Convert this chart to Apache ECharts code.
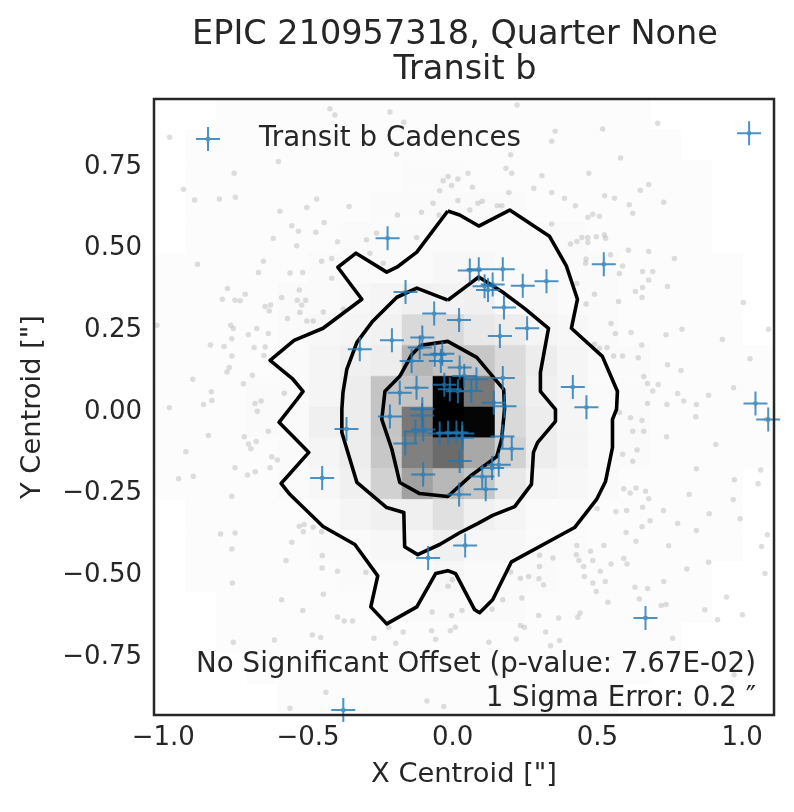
<!DOCTYPE html>
<html>
<head>
<meta charset="utf-8">
<title>EPIC 210957318 - Transit b centroids</title>
<script src="https://cdn.jsdelivr.net/npm/echarts@6/dist/echarts.min.js"></script>
<style>
html,body{margin:0;padding:0;background:#fff;}
#main{width:794px;height:812px;}
</style>
</head>
<body>
<div id="main"></div>
<script>
var FONT = '"DejaVu Sans", "Liberation Sans", sans-serif';
var TXT = '#262626';

// axis limits (arcsec) - the density grid covers exactly this box
var xLimits = [-1.032, 1.110];
var yLimits = [-0.928, 0.958];
var xTicks = [-1.0, -0.5, 0.0, 0.5, 1.0];
var yTicks = [-0.75, -0.5, -0.25, 0, 0.25, 0.5, 0.75];

// 20x20 density of all cadences, top row first, % of the darkest cell
var densityRows = [
	[0,0,1,1,1,1,1,1,1,1,1,1,1,1,1,1,0,0,0,0],
	[0,1,1,1,1,1,1,1,1,1,1,1,1,1,1,1,1,0,0,0],
	[0,1,1,1,1,1,1,1,2,2,1,1,1,1,1,1,1,1,0,0],
	[0,1,1,1,1,1,1,2,2,2,2,2,1,1,1,1,1,1,0,0],
	[0,1,1,1,1,1,2,2,2,2,2,2,2,2,1,1,1,1,0,0],
	[1,1,1,1,1,2,2,2,2,3,3,2,2,2,2,1,1,1,1,0],
	[1,1,1,1,2,2,3,4,6,5,6,2,3,2,2,1,1,1,1,0],
	[1,1,1,1,2,3,4,5,15,15,9,7,4,3,2,1,1,1,1,0],
	[1,1,1,1,2,4,6,7,29,23,22,14,7,4,2,2,1,1,1,1],
	[1,1,1,2,2,4,7,23,23,100,53,14,6,4,2,2,1,1,1,1],
	[1,1,1,2,2,6,7,23,53,100,98,15,7,4,2,2,1,1,1,1],
	[1,1,1,1,2,4,7,22,50,58,34,18,7,4,2,2,1,1,1,1],
	[1,1,1,1,2,3,6,18,37,28,22,9,4,3,2,1,1,1,1,0],
	[0,1,1,1,1,2,4,6,6,12,6,4,2,2,1,1,1,1,1,0],
	[0,1,1,1,1,2,2,3,3,6,3,3,2,2,1,1,1,1,1,0],
	[0,1,1,1,1,1,2,2,2,3,2,2,2,1,1,1,1,1,0,0],
	[0,0,1,1,1,1,1,2,2,2,2,2,1,1,1,1,1,1,0,0],
	[0,0,1,1,1,1,1,1,1,1,1,1,1,1,1,1,1,0,0,0],
	[0,0,0,1,1,1,1,1,1,1,1,1,1,1,1,1,0,0,0,0],
	[0,0,0,0,1,1,1,1,1,1,1,1,1,1,1,0,0,0,0,0]
];

// all cadences (grey points)
var allCadences = [
	[-0.424,0.928],[-0.407,0.909],[-0.217,0.918],[-0.169,0.887],[-0.978,0.841],[-0.194,0.789],[-0.602,0.767],[-0.755,0.731],
	[-0.033,0.708],[-0.016,0.721],[0.018,0.713],[-0.004,0.693],[-0.930,0.682],[-0.892,0.649],[-0.806,0.652],[-0.751,0.657],
	[-0.470,0.652],[-0.358,0.629],[-0.504,0.626],[-0.597,0.614],[-0.045,0.677],[0.018,0.647],[-0.068,0.639],[-0.108,0.611],
	[-0.191,0.603],[-0.047,0.603],[-0.556,0.570],[-0.444,0.580],[-0.473,0.550],[-0.533,0.553],[-0.620,0.531],[-0.263,0.547],
	[-0.298,0.527],[-0.398,0.521],[-0.125,0.534],[-0.539,0.509],[-0.286,0.486],[-0.418,0.470],[-0.453,0.461],[-0.240,0.455],
	[-0.654,0.461],[-0.882,0.452],[-0.671,0.427],[-0.562,0.425],[-0.518,0.427],[-0.418,0.409],[-0.778,0.378],[-0.530,0.373],
	[-0.752,0.342],[-0.734,0.340],[-0.796,0.345],[-0.717,0.360],[-0.591,0.350],[-0.537,0.342],[-0.508,0.342],[-0.648,0.323],
	[-0.629,0.327],[-0.634,0.309],[-0.522,0.327],[-0.528,0.304],[-0.447,0.306],[-0.571,0.286],[-0.504,0.278],[-0.482,0.278],
	[-0.378,0.314],[-1.022,0.265],[-0.767,0.265],[-0.758,0.255],[-0.677,0.255],[-0.706,0.236],[-0.763,0.224],[-0.637,0.240],
	[-0.837,0.205],[-0.790,0.200],[-0.686,0.197],[-0.648,0.199],[-0.763,0.171],[-0.652,0.173],[-0.898,0.100],[-0.692,0.112],
	[-0.723,0.086],[-0.772,0.136],[-0.780,0.122],[-0.834,0.062],[-0.832,0.035],[-0.582,0.057],[-0.861,0.023],[-0.683,0.026],
	[-0.662,0.033],[-0.979,0.013],
	[0.222,0.940],[0.518,0.866],[0.708,0.884],[0.354,0.859],[0.342,0.829],[0.200,0.787],[0.580,0.777],[0.184,0.746],
	[0.204,0.731],[0.308,0.723],[0.470,0.731],[0.053,0.731],[0.068,0.688],[0.280,0.685],[0.194,0.672],[0.342,0.672],
	[0.677,0.696],[0.648,0.679],[0.525,0.662],[0.559,0.654],[0.386,0.654],[0.102,0.645],[0.087,0.639],[0.154,0.631],
	[0.170,0.631],[0.424,0.631],[0.729,0.642],[0.610,0.634],[0.059,0.618],[0.622,0.608],[0.484,0.605],[0.467,0.596],
	[0.507,0.599],[0.342,0.575],[0.496,0.536],[0.524,0.542],[0.528,0.532],[0.467,0.534],[0.446,0.534],[0.429,0.522],
	[0.407,0.514],[0.467,0.519],[0.545,0.481],[0.607,0.495],[0.677,0.491],[0.766,0.470],[0.461,0.468],[0.459,0.455],
	[0.587,0.447],[0.576,0.424],[0.656,0.430],[0.691,0.430],[0.677,0.404],[0.656,0.381],[0.631,0.369],[0.654,0.350],
	[0.742,0.384],[0.490,0.360],[0.573,0.338],[0.429,0.393],[0.461,0.330],[1.004,0.335],[0.547,0.271],[0.616,0.243],
	[0.562,0.240],[0.653,0.205],[0.737,0.236],[0.792,0.253],[0.932,0.222],[1.091,0.253],[0.490,0.207],[0.507,0.195],
	[0.533,0.197],[0.556,0.171],[0.587,0.171],[0.641,0.166],[0.742,0.144],[0.789,0.127],[1.027,0.163],[0.660,0.108],
	[0.673,0.087],[0.710,0.084],[0.691,0.064],[0.777,0.056],[0.798,0.033],[0.842,0.023],[0.884,0.051],[0.970,0.074],
	[0.740,0.023],[0.673,0.026],
	[-0.675,0.002],[-0.637,-0.059],[-0.844,-0.072],[-0.720,-0.076],[-0.706,-0.098],[-0.679,-0.091],[-0.697,-0.113],[-0.922,-0.122],
	[-0.625,-0.137],[-0.606,-0.147],[-0.752,-0.171],[-0.631,-0.171],[-0.682,-0.183],[-0.709,-0.193],[-0.896,-0.197],[-0.947,-0.205],
	[-0.763,-0.258],[-0.530,-0.350],[-0.513,-0.345],[-0.482,-0.353],[-0.516,-0.367],[-0.453,-0.367],[-0.802,-0.374],[-0.752,-0.371],
	[-0.556,-0.399],[-0.763,-0.420],[-0.451,-0.440],[-0.576,-0.455],[-0.451,-0.478],[-0.398,-0.488],[-0.300,-0.491],[-0.761,-0.524],
	[-0.447,-0.558],[-0.591,-0.575],[-0.518,-0.608],[-0.398,-0.628],[-0.375,-0.640],[-0.346,-0.640],[-0.221,-0.660],[-0.171,-0.674],
	[-0.071,-0.613],[-0.004,-0.623],[0.032,-0.608],[-0.016,-0.534],[-0.001,-0.514],[0.009,-0.659],[-0.008,-0.670],[-0.073,-0.670],
	[-0.059,-0.696],[-0.272,-0.693],[-0.197,-0.708],[-0.485,-0.683],[-0.456,-0.691],[-0.616,-0.698],[-0.758,-0.705],[-0.438,-0.858],
	[-0.562,-0.907],[-0.089,-0.885],[-0.031,-0.902],
	[0.840,-0.015],[0.576,-0.002],[0.614,-0.018],[0.654,-0.026],[0.622,-0.059],[0.660,-0.059],[0.739,-0.076],[0.909,-0.100],
	[1.082,-0.023],[0.587,-0.130],[0.637,-0.117],[0.622,-0.151],[0.842,-0.174],[1.064,-0.178],[0.973,-0.208],[1.055,-0.220],
	[0.591,-0.235],[0.633,-0.233],[0.666,-0.243],[0.613,-0.248],[0.677,-0.266],[0.817,-0.253],[0.969,-0.268],[0.656,-0.292],
	[0.601,-0.302],[0.564,-0.306],[0.499,-0.296],[0.728,-0.302],[0.886,-0.312],[0.682,-0.333],[0.993,-0.327],[0.777,-0.342],
	[0.654,-0.352],[0.599,-0.369],[0.842,-0.363],[1.087,-0.376],[0.633,-0.396],[0.746,-0.410],[0.522,-0.409],[0.429,-0.409],
	[0.476,-0.427],[1.067,-0.412],[0.300,-0.439],[0.346,-0.447],[0.427,-0.437],[0.436,-0.455],[0.484,-0.455],[0.591,-0.449],
	[0.602,-0.466],[0.547,-0.466],[0.452,-0.473],[0.300,-0.473],[0.455,-0.504],[0.510,-0.488],[0.809,-0.481],[0.884,-0.460],
	[1.079,-0.495],[0.200,-0.490],[0.234,-0.509],[0.262,-0.504],[0.298,-0.511],[0.314,-0.529],[0.484,-0.524],[0.527,-0.519],
	[0.729,-0.519],[0.630,-0.537],[0.673,-0.541],[0.496,-0.550],[0.536,-0.583],[0.645,-0.573],[0.720,-0.593],[0.737,-0.590],
	[0.946,-0.567],[0.173,-0.575],[0.239,-0.570],[0.136,-0.604],[0.440,-0.616],[0.432,-0.629],[0.871,-0.606],[1.001,-0.621],
	[0.297,-0.623],[0.366,-0.631],[0.915,-0.636],[0.234,-0.654],[0.248,-0.659],[0.321,-0.674],[0.220,-0.695],[0.369,-0.700],
	[0.760,-0.693],[0.125,-0.705],[0.338,-0.716],[0.972,-0.805]
];

// transit b cadences (blue)
var transitCadences = [
	[-0.225,0.532],[-0.163,0.367],[-0.064,0.301],[0.022,0.281],[-0.210,0.219],[-0.105,0.228],[-0.321,0.192],[-0.114,0.197],
	[-0.062,0.175],[-0.036,0.178],[-0.041,0.156],[-0.142,0.156],[0.024,0.136],[0.040,0.110],[0.082,0.100],[-0.029,0.083],
	[-0.010,0.069],[0.018,0.063],[0.064,0.064],[-0.125,0.074],[-0.183,0.059],[0.173,0.104],[0.142,0.028],[0.179,0.017],
	[-0.217,-0.014],[-0.105,0.008],[-0.106,-0.011],[-0.367,-0.052],[-0.129,-0.060],[-0.102,-0.054],[-0.164,-0.097],[-0.045,-0.066],
	[-0.016,-0.064],[0.013,-0.063],[0.033,-0.066],[0.033,-0.079],[0.172,-0.075],[0.204,-0.113],[0.024,-0.150],[0.136,-0.172],
	[0.159,-0.162],[0.102,-0.198],[0.114,-0.237],[0.022,-0.253],[-0.102,-0.192],[-0.451,-0.202],[0.110,0.385],[0.138,0.390],
	[0.122,0.373],[0.242,0.386],[0.324,0.400],[0.177,0.320],[0.257,0.256],[0.163,0.232],[0.059,0.433],[0.090,0.437],
	[0.173,0.437],[0.522,0.452],[1.024,0.853],[0.415,0.076],[0.462,0.014],[1.046,0.026],[1.090,-0.023],[0.043,-0.409],
	[-0.085,-0.447],[0.666,-0.631],[-0.378,-0.913]
];

// density contours
var contourOuter = [
	[-0.017,0.615],[0.024,0.603],[0.090,0.569],[0.197,0.618],[0.334,0.538],[0.393,0.446],[0.431,0.345],[0.410,0.256],
	[0.517,0.170],[0.569,0.063],[0.566,0.008],[0.552,-0.023],[0.552,-0.109],[0.528,-0.213],[0.497,-0.268],[0.421,-0.354],
	[0.203,-0.459],[0.138,-0.575],[0.093,-0.615],[0.076,-0.606],[0.010,-0.495],[-0.017,-0.486],[-0.059,-0.495],[-0.124,-0.597],
	[-0.228,-0.649],[-0.283,-0.597],[-0.259,-0.502],[-0.338,-0.406],[-0.448,-0.351],[-0.562,-0.253],[-0.593,-0.219],[-0.497,-0.124],
	[-0.600,-0.032],[-0.538,0.038],[-0.517,0.063],[-0.552,0.100],[-0.631,0.158],[-0.548,0.219],[-0.448,0.256],[-0.314,0.345],
	[-0.397,0.443],[-0.334,0.486],[-0.228,0.428],[-0.193,0.443],[-0.124,0.489]
];
var contourMiddle = [
	[-0.017,0.342],[0.048,0.385],[0.090,0.413],[0.172,0.367],[0.248,0.317],[0.331,0.256],[0.303,0.121],[0.303,0.063],
	[0.355,0.008],[0.355,-0.029],[0.293,-0.094],[0.279,-0.124],[0.272,-0.222],[0.214,-0.290],[0.138,-0.317],[0.086,-0.342],
	[0.024,-0.370],[-0.045,-0.406],[-0.121,-0.437],[-0.166,-0.413],[-0.169,-0.308],[-0.228,-0.293],[-0.331,-0.216],[-0.383,-0.063],
	[-0.383,0.008],[-0.379,0.060],[-0.366,0.130],[-0.331,0.213],[-0.279,0.275],[-0.193,0.351],[-0.124,0.379]
];
var contourInner = [
	[-0.110,0.204],[-0.017,0.216],[0.083,0.167],[0.138,0.109],[0.176,0.069],[0.179,0.008],[0.169,-0.084],[0.152,-0.137],
	[0.059,-0.198],[-0.017,-0.259],[-0.114,-0.250],[-0.183,-0.216],[-0.210,-0.115],[-0.245,-0.023],[-0.234,0.063],[-0.183,0.109],
	[-0.141,0.176]
];

// 构造网格数据
var nBins = densityRows.length;
var bw = (xLimits[1] - xLimits[0]) / nBins;
var bh = (yLimits[1] - yLimits[0]) / nBins;
var cellData = [];
for (var r = 0; r < densityRows.length; r++) {
	var j = nBins - 1 - r;
	for (var i = 0; i < densityRows[r].length; i++) {
		if (densityRows[r][i] > 0) {
			cellData.push([xLimits[0] + (i + 0.5) * bw, yLimits[0] + (j + 0.5) * bh, densityRows[r][i]]);
		}
	}
}

function closeRing(pts) {
	return pts.concat([pts[0]]);
}

function fmt(v, d) {
	var s = Math.abs(v).toFixed(d);
	return v < 0 ? '\u2212' + s : s;
}

function renderCell(params, api) {
	var xc = api.value(0), yc = api.value(1), v = api.value(2);
	var p0 = api.coord([xc - bw / 2, yc + bh / 2]);
	var p1 = api.coord([xc + bw / 2, yc - bh / 2]);
	var g = Math.round(255 * (1 - v / 100));
	var c = 'rgb(' + g + ',' + g + ',' + g + ')';
	return {
		type: 'rect',
		shape: { x: p0[0], y: p0[1], width: p1[0] - p0[0], height: p1[1] - p0[1] },
		style: { fill: c, stroke: c, lineWidth: 0.5 }
	};
}

// 误差棒样式的 "+" 标记
var PLUS = 'path://M-1,-12L1,-12L1,12L-1,12Z M-12,-1L12,-1L12,1L-12,1Z M-2.4,0A2.4,2.4,0,1,1,2.4,0A2.4,2.4,0,1,1,-2.4,0Z';

function contourSeries(name, pts) {
	return {
		name: name,
		type: 'line',
		data: closeRing(pts),
		showSymbol: false,
		symbol: 'none',
		silent: true,
		z: 4,
		lineStyle: { color: '#000', width: 3.6, join: 'round' }
	};
}

var chart = echarts.init(document.getElementById('main'), null, { renderer: 'canvas' });
chart.setOption({
	animation: false,
	backgroundColor: '#fff',
	textStyle: { fontFamily: FONT, color: TXT },
	grid: {
		left: 154, right: 20, top: 99, bottom: 97,
		show: true, borderColor: TXT, borderWidth: 2.5,
		backgroundColor: 'transparent', z: 10
	},
	xAxis: {
		type: 'value',
		min: xLimits[0], max: xLimits[1],
		splitLine: { show: false },
		axisTick: { show: false },
		axisLine: { show: false },
		axisLabel: {
			customValues: xTicks,
			formatter: function (v) { return fmt(v, 1); },
			margin: 10, fontSize: 26, color: TXT, fontFamily: FONT
		},
		name: 'X Centroid ["]',
		nameLocation: 'middle',
		nameGap: 46,
		nameTextStyle: { fontSize: 27.3, color: TXT, fontFamily: FONT }
	},
	yAxis: {
		type: 'value',
		min: yLimits[0], max: yLimits[1],
		splitLine: { show: false },
		axisTick: { show: false },
		axisLine: { show: false },
		axisLabel: {
			customValues: yTicks,
			formatter: function (v) { return fmt(v, 2); },
			margin: 12, fontSize: 26, color: TXT, fontFamily: FONT
		},
		name: 'Y Centroid ["]',
		nameLocation: 'middle',
		nameRotate: 90,
		nameGap: 108,
		nameTextStyle: { fontSize: 27.3, color: TXT, fontFamily: FONT }
	},
	legend: {
		data: ['Transit b Cadences'],
		left: 191, top: 120,
		itemWidth: 92, itemHeight: 24,
		selectedMode: false,
		textStyle: { fontSize: 27.7, color: TXT, fontFamily: FONT }
	},
	graphic: [
		{ type: 'text', x: 455, y: 35, style: { text: 'EPIC 210957318, Quarter None', font: '33.5px ' + FONT, fill: TXT, align: 'center', verticalAlign: 'middle', textAlign: 'center', textVerticalAlign: 'middle' } },
		{ type: 'text', x: 465, y: 70, style: { text: 'Transit b', font: '33.5px ' + FONT, fill: TXT, align: 'center', verticalAlign: 'middle', textAlign: 'center', textVerticalAlign: 'middle' } },
		{ type: 'text', x: 756, y: 665, z: 20, style: { text: 'No Significant Offset (p-value: 7.67E-02)', font: '27.7px ' + FONT, fill: TXT, align: 'right', verticalAlign: 'middle', textAlign: 'right', textVerticalAlign: 'middle' } },
		{ type: 'text', x: 756, y: 699, z: 20, style: { text: '1 Sigma Error: 0.2 \u2033', font: '27.7px ' + FONT, fill: TXT, align: 'right', verticalAlign: 'middle', textAlign: 'right', textVerticalAlign: 'middle' } }
	],
	series: [
		{
			name: 'density',
			type: 'custom',
			renderItem: renderCell,
			data: cellData,
			encode: { x: 0, y: 1 },
			silent: true,
			z: 1
		},
		{
			name: 'All Cadences',
			type: 'scatter',
			data: allCadences,
			symbol: 'circle',
			symbolSize: 5.5,
			silent: true,
			z: 2,
			itemStyle: { color: 'rgba(128,128,128,0.32)' }
		},
		contourSeries('c1', contourOuter),
		contourSeries('c2', contourMiddle),
		contourSeries('c3', contourInner),
		{
			name: 'Transit b Cadences',
			type: 'scatter',
			data: transitCadences,
			symbol: PLUS,
			symbolSize: 24,
			silent: true,
			z: 5,
			itemStyle: { color: '#1f77b4' }
		}
	]
});
</script>
</body>
</html>
